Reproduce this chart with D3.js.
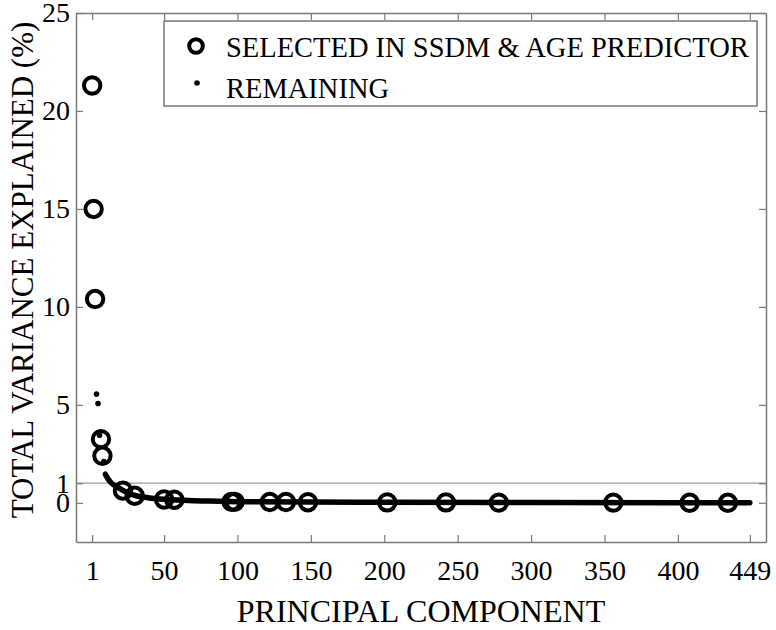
<!DOCTYPE html>
<html>
<head>
<meta charset="utf-8">
<script src="https://cdn.jsdelivr.net/npm/d3@7"></script>
<style>
  body { margin: 0; background: #fff; }
  svg text { font-family: "Liberation Serif", "Times New Roman", serif; fill: #000; }
</style>
</head>
<body>
<div id="chart"></div>
<script>
// principal components picked for the SSDM & age predictor
const selectedPC  = [1, 2, 3, 7, 8, 22, 30, 50, 57, 96, 98, 122, 133, 148, 202, 242, 278, 356, 408, 434];
const selectedVar = [21.3, 15.0, 10.4, 3.25, 2.4, 0.62, 0.36, 0.17, 0.16, 0.05, 0.05, 0.04, 0.04, 0.03, 0.02, 0.02, 0.01, 0.01, 0.0, 0.0];

// remaining components, first few as single points
const remainingPC  = [4, 5, 6, 9];
const remainingVar = [5.55, 5.07, 3.45, 2.1];

// remaining components from PC 10 on
const tailPC  = [10, 12, 14, 17, 20, 25, 30, 40, 50, 60, 70, 80, 100, 150, 200, 300, 400, 449];
const tailVar = [1.46, 1.2, 1.02, 0.85, 0.72, 0.52, 0.38, 0.25, 0.18, 0.14, 0.11, 0.09, 0.06, 0.04, 0.03, 0.015, 0.005, 0.0];

const xTicks = [1, 50, 100, 150, 200, 250, 300, 350, 400, 449];
const yTicks = [0, 1, 5, 10, 15, 20, 25];

const legendLabels = ["SELECTED IN SSDM & AGE PREDICTOR", "REMAINING"];

const W = 776, H = 630;
const margin = {top: 13, right: 10, bottom: 88, left: 76};
const width = W - margin.left - margin.right;
const height = H - margin.top - margin.bottom;
const axisColor = "#7a7a7a";

const svg = d3.select("#chart").append("svg")
    .attr("width", W)
    .attr("height", H);

svg.append("rect").attr("width", W).attr("height", H).attr("fill", "#fff");

const g = svg.append("g")
    .attr("transform", `translate(${margin.left},${margin.top})`);

const x = d3.scaleLinear().domain([-10, 460]).range([0, width]);
const y = d3.scaleLinear().domain([-2, 25]).range([height, 0]);

// reference line at 1 %
g.append("line")
    .attr("x1", 0).attr("x2", width)
    .attr("y1", y(1)).attr("y2", y(1))
    .attr("stroke", "#999")
    .attr("stroke-width", 1.2);

// axes (box style, ticks pointing inward)
function styleAxis(sel) {
    sel.selectAll(".domain").attr("stroke", axisColor).attr("stroke-width", 1.5);
    sel.selectAll(".tick line").attr("stroke", axisColor).attr("stroke-width", 1.2);
    sel.selectAll("text").attr("font-size", 28).attr("fill", "#000")
        .attr("font-family", "Liberation Serif, Times New Roman, serif");
}

g.append("g")
    .attr("transform", `translate(0,${height})`)
    .call(d3.axisBottom(x).tickValues(xTicks).tickFormat(d3.format("d"))
        .tickSizeInner(-7).tickSizeOuter(0).tickPadding(18))
    .call(styleAxis);

g.append("g")
    .call(d3.axisTop(x).tickValues(xTicks).tickFormat("")
        .tickSizeInner(-7).tickSizeOuter(0))
    .call(styleAxis);

g.append("g")
    .call(d3.axisLeft(y).tickValues(yTicks).tickFormat(d3.format("d"))
        .tickSizeInner(-7).tickSizeOuter(0).tickPadding(6))
    .call(styleAxis);

g.append("g")
    .attr("transform", `translate(${width},0)`)
    .call(d3.axisRight(y).tickValues(yTicks).tickFormat("")
        .tickSizeInner(-7).tickSizeOuter(0))
    .call(styleAxis);

// remaining components: dense tail drawn as thick line of dots
const tail = tailPC.map((d, i) => [d, tailVar[i]]);
g.append("path")
    .datum(tail)
    .attr("fill", "none")
    .attr("stroke", "#000")
    .attr("stroke-width", 5.5)
    .attr("stroke-linecap", "round")
    .attr("stroke-linejoin", "round")
    .attr("d", d3.line().x(d => x(d[0])).y(d => y(d[1])).curve(d3.curveMonotoneX));

g.selectAll(".remaining")
    .data(remainingPC)
    .enter()
    .append("circle")
    .attr("class", "remaining")
    .attr("cx", d => x(d))
    .attr("cy", (d, i) => y(remainingVar[i]))
    .attr("r", 2.8)
    .attr("fill", "#000");

// selected components
g.selectAll(".selected")
    .data(selectedPC)
    .enter()
    .append("circle")
    .attr("class", "selected")
    .attr("cx", d => x(d))
    .attr("cy", (d, i) => y(selectedVar[i]))
    .attr("r", 8.2)
    .attr("fill", "none")
    .attr("stroke", "#000")
    .attr("stroke-width", 4);

// legend
const legend = g.append("g").attr("transform", "translate(88,8)");
legend.append("rect")
    .attr("width", 593)
    .attr("height", 85)
    .attr("fill", "#fff")
    .attr("stroke", "#555")
    .attr("stroke-width", 1.2);

legend.append("circle")
    .attr("cx", 32).attr("cy", 25)
    .attr("r", 6.8)
    .attr("fill", "none")
    .attr("stroke", "#000")
    .attr("stroke-width", 4);

legend.append("circle")
    .attr("cx", 33).attr("cy", 62)
    .attr("r", 2.8)
    .attr("fill", "#000");

legend.selectAll(".legend-label")
    .data(legendLabels)
    .enter()
    .append("text")
    .attr("class", "legend-label")
    .attr("x", 62)
    .attr("y", (d, i) => 36 + i * 41)
    .attr("font-size", 28.5)
    .text(d => d);

// axis titles
svg.append("text")
    .attr("x", margin.left + width / 2)
    .attr("y", 622)
    .attr("text-anchor", "middle")
    .attr("font-size", 32)
    .text("PRINCIPAL COMPONENT");

svg.append("text")
    .attr("transform", "translate(33,270) rotate(-90)")
    .attr("text-anchor", "middle")
    .attr("font-size", 31)
    .text("TOTAL VARIANCE EXPLAINED (%)");
</script>
</body>
</html>
